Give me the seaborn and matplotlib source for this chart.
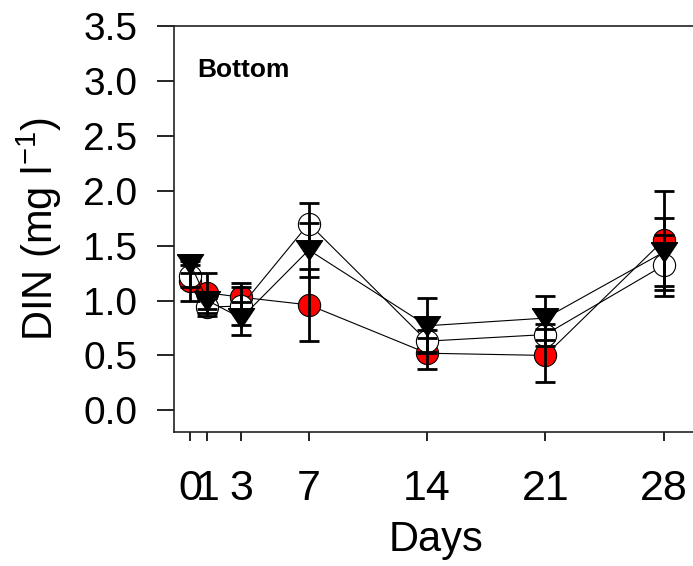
import pandas as pd
import matplotlib.pyplot as plt
import seaborn as sns

# -------------------------
# Data
# -------------------------
days = [0, 1, 3, 7, 14, 21, 28]

red_mean = [1.18, 1.07, 1.03, 0.96, 0.52, 0.50, 1.55]
red_err = [0.18, 0.18, 0.13, 0.33, 0.14, 0.24, 0.45]

white_mean = [1.22, 0.94, 0.95, 1.70, 0.63, 0.69, 1.32]
white_err = [0.10, 0.08, 0.17, 0.19, 0.10, 0.10, 0.28]

black_mean = [1.33, 1.00, 0.84, 1.46, 0.77, 0.84, 1.44]
black_err = [0.08, 0.08, 0.15, 0.25, 0.25, 0.20, 0.31]

y_ticks = [0.0, 0.5, 1.0, 1.5, 2.0, 2.5, 3.0, 3.5]

sns.set_style("ticks")
plt.rcParams["font.family"] = ["Liberation Sans", "DejaVu Sans"]
plt.rcParams["mathtext.default"] = "regular"
plt.rcParams["text.color"] = "black"
plt.rcParams["axes.labelcolor"] = "black"
plt.rcParams["xtick.color"] = "black"
plt.rcParams["ytick.color"] = "black"

fig = plt.figure(figsize=(6.93, 5.66), dpi=100)
ax = fig.add_axes([0.2505, 0.2362, 0.756, 0.718])

# flat, wide down-triangle like the original
tri = [(-1, 0.75), (1, 0.75), (0, -0.75), (-1, 0.75)]

series = [
    ("red", red_mean, red_err, "o", "red", 16),
    ("white", white_mean, white_err, "o", "white", 16),
    ("black", black_mean, black_err, tri, "black", 19),
]

for name, mean, err, marker, face, ms in series:
    df = pd.DataFrame({"day": days, "din": mean})
    sns.lineplot(
        data=df, x="day", y="din", ax=ax,
        color="black", linewidth=0.8,
        marker=marker, markersize=ms,
        markerfacecolor=face, markeredgecolor="black", markeredgewidth=0.8,
    )

for name, mean, err, marker, face, ms in series:
    ax.errorbar(days, mean, yerr=err, fmt="none", ecolor="black",
                elinewidth=2, capsize=7, capthick=2, zorder=5)

ax.set_xlim(-1, 30)
ax.set_ylim(-0.2, 3.5)
ax.set_xticks(days)
ax.set_xticklabels([str(d) for d in days])
ax.set_yticks(y_ticks)
ax.set_yticklabels([f"{v:.1f}" for v in y_ticks])

ax.tick_params(axis="y", direction="out", length=12, width=1.2,
               labelsize=28, pad=14)
ax.tick_params(axis="x", direction="out", length=6.5, width=1.2,
               labelsize=31, pad=20)
for s in ax.spines.values():
    s.set_linewidth(1.2)
    s.set_color("#222222")

ax.set_xlabel("Days", fontsize=30, labelpad=8)
ax.set_ylabel("DIN (mg l$^{-1}$)", fontsize=30, labelpad=14)

ax.text(0.045, 0.892, "Bottom", transform=ax.transAxes,
        fontsize=19, fontweight="bold", ha="left", va="center")

plt.savefig("out.png", dpi=100)
